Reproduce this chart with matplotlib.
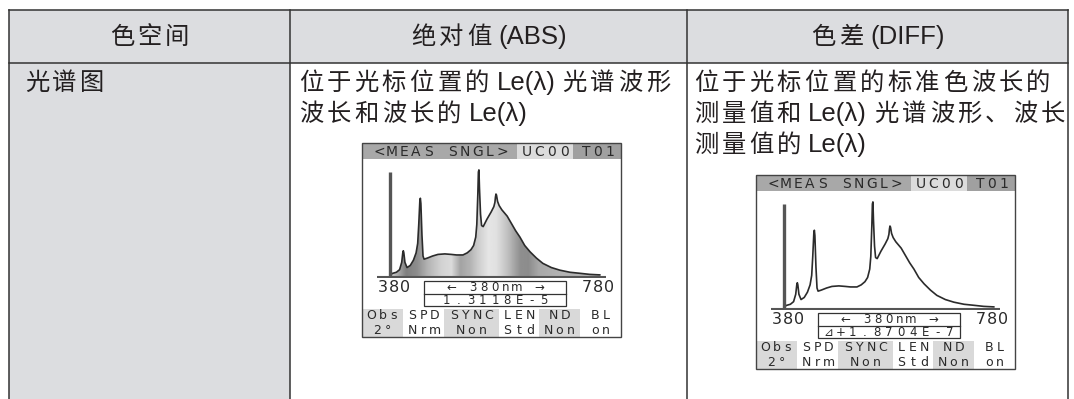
import matplotlib.pyplot as plt
import numpy as np

# table text
header = ['色空间', '绝对值 (ABS)', '色差 (DIFF)']
row_label = ['光谱图']
abs_text = ['位于光标位置的 Le(λ) 光谱波形', '波长和波长的 Le(λ)']
diff_text = ['位于光标位置的标准色波长的', '测量值和 Le(λ) 光谱波形、波长', '测量值的 Le(λ)']

# spectrum (nm, relative Le)
wavelength = [380, 385, 392, 398, 402, 404, 405, 406, 408, 412, 418, 424, 429, 432, 434,
              436, 437, 438, 440, 442, 444, 450, 460, 470, 483, 495, 505, 517, 525, 532,
              537, 541, 543, 545, 546, 547, 548, 550, 552, 555, 562, 570, 575, 577, 578,
              579, 580, 582, 585, 590, 600, 608, 616, 624, 633, 643, 655, 667, 683, 699,
              718, 737, 755, 774]
le_value = [0.02, 0.035, 0.045, 0.07, 0.14, 0.23, 0.25, 0.23, 0.14, 0.09, 0.11, 0.16, 0.23, 0.32, 0.50,
            0.72, 0.75, 0.70, 0.40, 0.20, 0.17, 0.18, 0.20, 0.215, 0.22, 0.215, 0.21, 0.21, 0.23, 0.26,
            0.30, 0.38, 0.50, 0.80, 1.00, 1.02, 0.85, 0.60, 0.49, 0.48, 0.55, 0.62, 0.67, 0.71, 0.76,
            0.79, 0.78, 0.72, 0.68, 0.64, 0.58, 0.51, 0.44, 0.38, 0.30, 0.24, 0.18, 0.13, 0.09, 0.065,
            0.045, 0.035, 0.025, 0.02]

# screen texts
title_parts = ['<MEAS SNGL>', 'UC00', 'T01']
status_top = ['Obs', 'SPD', 'SYNC', 'LEN', 'ND', 'BL']
status_bot = ['2°', 'Nrm', 'Non', 'Std', 'Non', 'on']
cursor_text = '← 380nm →'
abs_value = '1.3118E-5'
diff_value = '⊿+1.8704E-7'

# fill shading of the ABS spectrum (nm, grey level)
shade_nm = [380, 392, 410, 430, 450, 475, 495, 512, 530, 545, 565, 580, 600, 625, 640, 660, 700, 780]
shade_lv = [0.8, 0.7, 0.5, 0.55, 0.7, 0.82, 0.86, 0.64, 0.7, 0.8, 0.9, 0.88, 0.76, 0.56, 0.55, 0.66, 0.7, 0.72]

W, H = 1074, 399
fig = plt.figure(figsize=(W / 100, H / 100), dpi=100)
ax = fig.add_axes([0, 0, 1, 1])
ax.set_xlim(0, W)
ax.set_ylim(H, 0)
ax.axis('off')
renderer = fig.canvas.get_renderer()

GREY = '#dcdde0'
LINE = '#333333'
TXT = '#231f20'
FAM = ['Liberation Sans', 'Noto Sans CJK SC']
FS_CJK = 17.5
FS_LAT = 18.5
PITCH = 27.7

# table background and lines
L, R, T, HB = 9, 1068, 10, 63
C1, C2 = 290, 687
ax.add_patch(plt.Rectangle((L, T), R - L, HB - T, color=GREY, lw=0))
ax.add_patch(plt.Rectangle((L, HB), C1 - L, H - HB, color=GREY, lw=0))
for y in (T, HB):
    ax.plot([L, R], [y, y], color=LINE, lw=1.1)
for x in (L, C1, C2, R):
    ax.plot([x, x], [T, H], color=LINE, lw=1.1)


def tokens(s):
    out, buf = [], ''
    for ch in s:
        if ord(ch) > 0x2E80 or ch == ' ':
            if buf:
                out.append(buf)
                buf = ''
            out.append(ch)
        else:
            buf += ch
    if buf:
        out.append(buf)
    return out


def tok_width(t):
    if t == ' ':
        return 5.5
    if ord(t[0]) > 0x2E80:
        return PITCH
    tt = ax.text(0, 0, t, fontsize=FS_LAT, family=FAM)
    w = tt.get_window_extent(renderer).width
    tt.remove()
    return w


def cjk_line(x, y, s, center=False):
    toks = tokens(s)
    widths = [tok_width(t) for t in toks]
    if center:
        x = x - sum(widths) / 2
    for t, w in zip(toks, widths):
        if t != ' ':
            if ord(t[0]) > 0x2E80:
                ax.text(x + w / 2, y + 8, t, fontsize=FS_CJK, family=FAM, color=TXT,
                        ha='center', va='baseline')
            else:
                ax.text(x, y + 8, t, fontsize=FS_LAT, family=FAM, color=TXT,
                        ha='left', va='baseline')
        x += w


cjk_line((L + C1) / 2, 36, header[0], center=True)
cjk_line((C1 + C2) / 2, 36, header[1], center=True)
cjk_line((C2 + R) / 2, 36, header[2], center=True)
cjk_line(23, 82, row_label[0])
for i, s in enumerate(abs_text):
    cjk_line(297, 82 + i * 31, s)
for i, s in enumerate(diff_text):
    cjk_line(692, 82 + i * 31, s)

SFAM = ['DejaVu Sans', 'Noto Sans CJK SC']
SC = '#2a2a2a'


def mono(x, y, s, pitch, size=9, center=False):
    if center:
        x = x - len(s) * pitch / 2
    for i, ch in enumerate(s):
        if ch != ' ':
            ax.text(x + (i + 0.5) * pitch, y, ch, fontsize=size, family=SFAM,
                    color=SC, ha='center', va='center')


def screen(x0, y0, value, filled):
    w, h = 259, 194
    # title bar
    ax.add_patch(plt.Rectangle((x0, y0), 155, 16, color='#a8a8a8', lw=0))
    ax.add_patch(plt.Rectangle((x0 + 155, y0), 56, 16, color='#dcdcdc', lw=0))
    ax.add_patch(plt.Rectangle((x0 + 211, y0), 48, 16, color='#a0a0a0', lw=0))
    mono(x0 + 11, y0 + 8.5, title_parts[0], 12.3, size=10)
    mono(x0 + 159, y0 + 8.5, title_parts[1], 12.3, size=10)
    mono(x0 + 218, y0 + 8.5, title_parts[2], 12, size=10)
    # status bar
    edges = [0, 41, 82, 137, 177, 218, 259]
    for i in range(6):
        if i % 2 == 0:
            ax.add_patch(plt.Rectangle((x0 + edges[i], y0 + 166), edges[i + 1] - edges[i], 28,
                                       color='#d9d9d9', lw=0))
        cx = x0 + (edges[i] + edges[i + 1]) / 2
        mono(cx, y0 + 172.5, status_top[i], 11.5, size=9, center=True)
        mono(cx, y0 + 187.5, status_bot[i], 11.5, size=9, center=True)
    # frame
    ax.add_patch(plt.Rectangle((x0, y0), w, h, fill=False, ec='#444444', lw=1.0))
    # axis labels and cursor box
    mono(x0 + 32, y0 + 144, '380', 11.5, size=11.5, center=True)
    mono(x0 + 236, y0 + 144, '780', 11.5, size=11.5, center=True)
    ax.add_patch(plt.Rectangle((x0 + 62, y0 + 138), 142, 25, fill=False, ec='#333333', lw=0.9))
    ax.plot([x0 + 62, x0 + 204], [y0 + 151, y0 + 151], color='#333333', lw=0.9)
    mono(x0 + 133, y0 + 144.3, cursor_text, 11, size=8.5, center=True)
    mono(x0 + 133, y0 + 157.5, value, 12.2, size=8.5, center=True)

    # spectrum
    sp = fig.add_axes([(x0 + 15) / W, 1 - (y0 + 135) / H, 229 / W, 113 / H])
    sp.axis('off')
    sp.patch.set_alpha(0)
    if filled:
        poly = sp.fill_between(wavelength, le_value, 0, color='none', lw=0)
        xs = np.linspace(380, 780, 400)
        grad = np.interp(xs, shade_nm, shade_lv)
        im = sp.imshow(grad[np.newaxis, :], extent=[380, 780, 0, 1.1], aspect='auto',
                       cmap='gray', vmin=0, vmax=1, interpolation='bilinear')
        im.set_clip_path(poly.get_paths()[0], transform=sp.transData)
    sp.plot(wavelength, le_value, color='#2b2b2b', lw=1.2)
    sp.axhline(0, color='#555555', lw=1.5)
    sp.vlines(380, 0, 1.0, color='#555555', lw=2.4)
    sp.set_xlim(380 - 13 * 400 / 213, 380 + 216 * 400 / 213)
    sp.set_ylim(-1 / 105, 112 / 105)


screen(362, 143, abs_value, True)
screen(756, 175, diff_value, False)

fig.savefig('out.png', dpi=100)
